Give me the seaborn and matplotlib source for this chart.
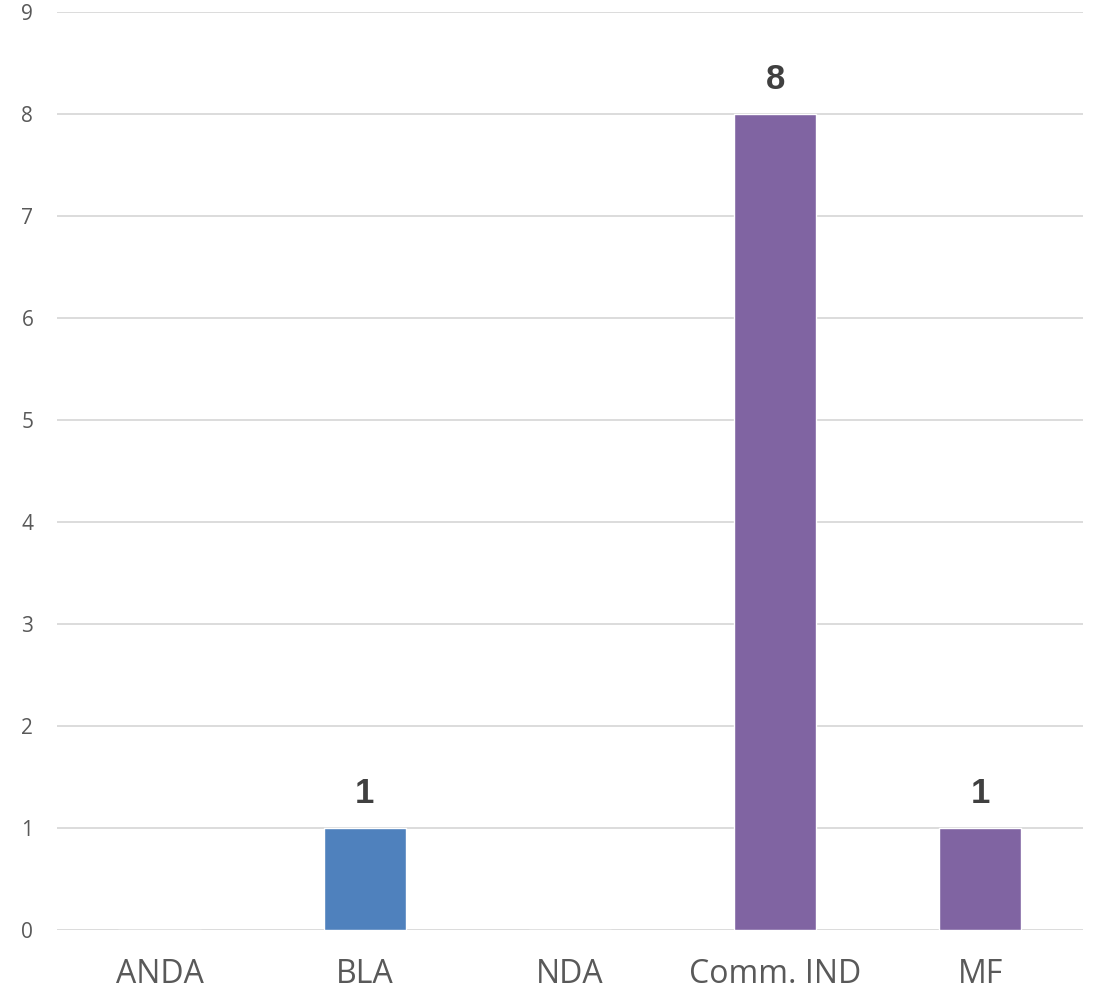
import matplotlib
matplotlib.use("Agg")
import matplotlib.pyplot as plt
import seaborn as sns
import pandas as pd

categories = ["ANDA", "BLA", "NDA", "Comm. IND", "MF"]
counts = [0, 1, 0, 8, 1]
bar_colors = ["#4F81BD", "#4F81BD", "#4F81BD", "#8064A2", "#8064A2"]
y_ticks = list(range(0, 10))

sns.set_theme(style="white")
plt.rcParams["font.family"] = ["Open Sans", "DejaVu Sans"]

df = pd.DataFrame({"category": categories, "count": counts})
palette = dict(zip(categories, bar_colors))

fig = plt.figure(figsize=(10.94, 9.93), dpi=100)
ax = fig.add_axes([0.052, 0.0634, 0.938, 0.9246])

sns.barplot(data=df, x="category", y="count", hue="category", palette=palette,
            width=0.4, saturation=1, legend=False, ax=ax, zorder=3)

ax.set_ylim(0, 9)
ax.set_xlim(-0.5, len(categories) - 0.5)
ax.set_yticks(y_ticks)
ax.yaxis.grid(True, color="#D9D9D9", linewidth=1.3, zorder=0)
ax.set_axisbelow(True)
for s in ax.spines.values():
    s.set_visible(False)
ax.set_xlabel("")
ax.set_ylabel("")
ax.tick_params(axis="y", labelsize=15, labelcolor="#595959", length=0, pad=17)
ax.tick_params(axis="x", labelsize=23, labelcolor="#595959", length=0, pad=20)

for i, v in enumerate(counts):
    if v > 0:
        ax.annotate(str(v), (i, v), xytext=(0, 18), textcoords="offset points",
                    ha="center", va="baseline", fontsize=25, fontweight="bold",
                    color="#404040", family=["Liberation Sans", "DejaVu Sans"])

fig.savefig("out.png", dpi=100, facecolor="white")
